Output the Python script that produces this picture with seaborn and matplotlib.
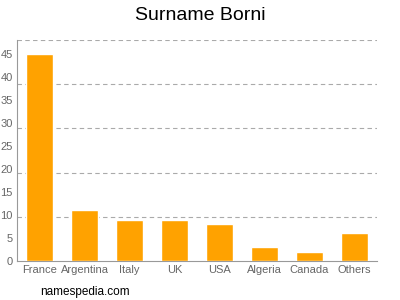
import matplotlib
matplotlib.use("Agg")
import matplotlib.pyplot as plt
import seaborn as sns
import pandas as pd

categories = ["France", "Argentina", "Italy", "UK", "USA", "Algeria", "Canada", "Others"]
values = [45, 11, 9, 9, 8, 3, 2, 6]
yticks = [0, 5, 10, 15, 20, 25, 30, 35, 40, 45]
grid_vals = [9.6, 19.2, 28.8, 38.4, 48]

sns.set_style("white")
plt.rcParams['font.family'] = ['Liberation Sans', 'DejaVu Sans']

df = pd.DataFrame({"country": categories, "count": values})
fig = plt.figure(figsize=(4, 3), dpi=100)
ax = fig.add_axes([0.0425, 0.13, 0.9, 0.737])
sns.barplot(data=df, x="country", y="count", color="#ffa200", width=0.62,
            saturation=1, ax=ax, zorder=3)
ax.set_ylim(0, 48)
ax.set_xlim(-0.5, len(categories) - 0.5)
ax.set_yticks(yticks)
for g in grid_vals:
    ax.axhline(g, color="#aaaaaa", linestyle=(0, (4, 3)), linewidth=0.8, zorder=1)
ax.set_xlabel("")
ax.set_ylabel("")
for s in ["top", "right"]:
    ax.spines[s].set_visible(False)
for s in ["left", "bottom"]:
    ax.spines[s].set_color("#999999")
    ax.spines[s].set_linewidth(0.8)
ax.tick_params(axis="both", colors="#999999", labelcolor="#666666", labelsize=8,
               length=2, width=0.8, direction="out", pad=1)
fig.text(0.5, 0.95, "Surname Borni", ha="center", va="center", fontsize=14, color="#000000")
fig.text(0.1, 0.027, "namespedia.com", ha="left", va="center", fontsize=8.5, color="#000000")
fig.savefig("out.png", dpi=100)
